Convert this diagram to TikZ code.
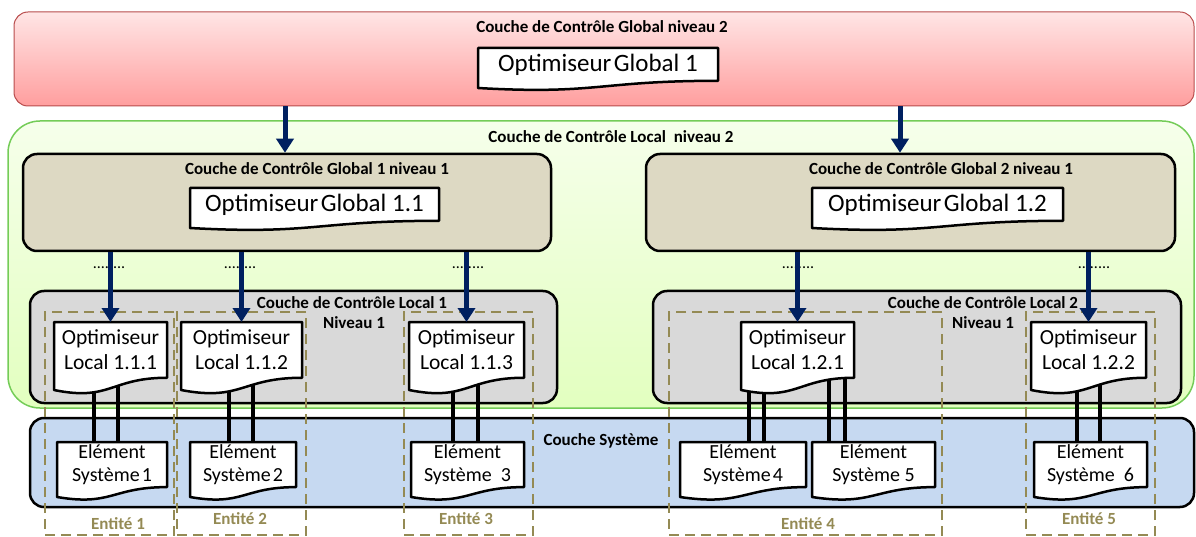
\documentclass[tikz,border=0pt]{standalone}
\usepackage{fontspec}
\setmainfont{Carlito}
\usepackage{tikz}
\usetikzlibrary{arrows.meta}
\pgfdeclarelayer{back}
\pgfdeclarelayer{links}
\pgfsetlayers{back,links,main}
\definecolor{navy}{HTML}{002060}
\definecolor{olive}{HTML}{948A54}
\definecolor{tan}{HTML}{DDD9C3}
\definecolor{lgray}{HTML}{D9D9D9}
\definecolor{lblue}{HTML}{C6D9F1}

% document shape: flat top, wavy bottom
% #1 name, #2 centre, #3 width, #4 height, #5 font, #6 text
\newcommand{\docbox}[6]{%
  \draw[docline] (#2) ++(-#3/2,#4/2) -- ++(#3,0) -- ++(0,-0.82*#4)
    .. controls +(-0.5*#3,0) and +(0.5*#3,-0.17*#4) .. ++(-#3,-0.18*#4) -- cycle;
  \node[doctext,font=#5,minimum width=#3pt,minimum height=0.82*#4pt,anchor=north]
    (#1) at ([yshift=#4pt/2]#2) {#6};}

\begin{document}
\begin{tikzpicture}[x=1pt,y=1pt,
		layer/.style={rounded corners=14pt,line width=2.5pt,draw=black,inner sep=0pt},
		title/.style={font=\fontsize{17}{19}\selectfont\bfseries},
		docline/.style={fill=white,draw=black,line width=2.5pt,line join=round},
		doctext/.style={align=center,inner sep=0pt,draw=none},
		entity/.style={draw=olive,line width=2.5pt,dash pattern=on 10pt off 6pt,inner sep=0pt},
		entlabel/.style={text=olive,font=\fontsize{17}{19}\selectfont\bfseries},
		arr/.style={navy,line width=5pt,-{Triangle[width=17pt,length=14pt]}},
		link/.style={black,line width=3.5pt},
		dots/.style={font=\fontsize{16}{16}\selectfont}]
		\useasboundingbox (0,0) rectangle (1196,536);
		
		% layers
		\begin{pgfonlayer}{back}
			\node[rounded corners=14pt,draw=red!60!black!70,line width=1pt,top color=red!10,bottom color=red!38,
			minimum width=1180pt,minimum height=94pt] (cg2) at (604,477) {};
			\node[rounded corners=32pt,draw=green!45!olive!80,line width=1.5pt,top color=green!45!yellow!8,bottom color=green!45!yellow!25,
			minimum width=1186pt,minimum height=287pt] (cl2) at (601,271.5) {};
			\node[layer,fill=tan,minimum width=528pt,minimum height=97pt] (cg11) at (287,333.5) {};
			\node[layer,fill=tan,minimum width=529pt,minimum height=97pt] (cg12) at (910.5,333.5) {};
			\node[layer,fill=lgray,minimum width=527pt,minimum height=112pt] (cl11) at (293.5,189) {};
			\node[layer,fill=lgray,minimum width=528pt,minimum height=112pt] (cl12) at (917,189) {};
			\node[layer,fill=lblue,minimum width=1164pt,minimum height=89pt] (cs) at (612,73.5) {};
		\end{pgfonlayer}
		
		% layer titles
		\node[title] (tcg2) at (602,509) {Couche de Contrôle Global niveau 2};
		\node[title] (tcl2) at (611,399) {Couche de Contrôle Local~~niveau 2};
		\node[title] (tcg11) at (317,367) {Couche de Contrôle Global 1 niveau 1};
		\node[title] (tcg12) at (941,367) {Couche de Contrôle Global 2 niveau 1};
		\node[title] (tcl11) at (352,233) {Couche de Contrôle Local 1};
		\node[title] (ncl11) at (354,213) {Niveau 1};
		\node[title] (tcl12) at (983,233) {Couche de Contrôle Local 2};
		\node[title] (ncl12) at (983,213) {Niveau 1};
		\node[title] (tcs) at (601,95) {Couche Système};
		
		% optimisers
		\docbox{og1}{598,468}{240}{40}{\fontsize{25}{28}\selectfont}{Optimiseur\hspace{0.1em}Global 1}
		\docbox{og11}{314.5,328}{249}{40}{\fontsize{25}{28}\selectfont}{Optimiseur\hspace{0.1em}Global 1.1}
		\docbox{og12}{937.5,328}{251}{40}{\fontsize{25}{28}\selectfont}{Optimiseur\hspace{0.1em}Global 1.2}
		\docbox{ol111}{110.5,180}{113}{68}{\fontsize{21.5}{25}\selectfont}{Optimiseur\\Local 1.1.1}
		\docbox{ol112}{241.5,180}{121}{68}{\fontsize{21.5}{25}\selectfont}{Optimiseur\\Local 1.1.2}
		\docbox{ol113}{466.5,180}{115}{68}{\fontsize{21.5}{25}\selectfont}{Optimiseur\\Local 1.1.3}
		\docbox{ol121}{797.5,180}{113}{68}{\fontsize{21.5}{25}\selectfont}{Optimiseur\\Local 1.2.1}
		\docbox{ol122}{1088.5,180}{115}{68}{\fontsize{21.5}{25}\selectfont}{Optimiseur\\Local 1.2.2}
		
		% system elements
		\docbox{es1}{112,66.5}{110}{55}{\fontsize{20}{22.5}\selectfont}{Elément\\Système\hspace{0.1em}1}
		\docbox{es2}{243,66.5}{106}{55}{\fontsize{20}{22.5}\selectfont}{Elément\\Système\hspace{0.1em}2}
		\docbox{es3}{467.5,66.5}{113}{55}{\fontsize{20}{22.5}\selectfont}{Elément\\Système~~3}
		\docbox{es4}{743,66.5}{126}{55}{\fontsize{20}{22.5}\selectfont}{Elément\\Système\hspace{0.1em}4}
		\docbox{es5}{873.5,66.5}{123}{55}{\fontsize{20}{22.5}\selectfont}{Elément\\Système 5}
		\docbox{es6}{1090.5,66.5}{113}{55}{\fontsize{20}{22.5}\selectfont}{Elément\\Système~~6}
		
		% double links optimiser -> element
		\begin{pgfonlayer}{links}
			\foreach \o/\e/\dx in {ol111/es1/-16.5,ol111/es1/7.5,ol112/es2/-12.5,ol112/es2/11.5,
				ol113/es3/-13.5,ol113/es3/11.5,ol121/es4/-48.5,ol121/es4/-33.5,
				ol121/es5/31.5,ol121/es5/47.5,ol122/es6/-11.5,ol122/es6/11.5}
			\draw[link] ([xshift=\dx pt]\o.center) -- ([xshift=\dx pt]\o.center |- \e.north);
		\end{pgfonlayer}
		
		% entities
		\node[entity,minimum width=129pt,minimum height=223pt] (e1) at (109.5,112.5) {};
		\node[entity,minimum width=129pt,minimum height=223pt] (e2) at (241.5,112.5) {};
		\node[entity,minimum width=129pt,minimum height=223pt] (e3) at (468.5,112.5) {};
		\node[entity,minimum width=273pt,minimum height=223pt] (e4) at (805.5,112.5) {};
		\node[entity,minimum width=129pt,minimum height=223pt] (e5) at (1090.5,112.5) {};
		\node[entlabel] (le1) at (118,12) {Entité 1};
		\node[entlabel] (le2) at (240,17) {Entité 2};
		\node[entlabel] (le3) at (466,17) {Entité 3};
		\node[entlabel] (le4) at (808,12) {Entité 4};
		\node[entlabel] (le5) at (1089,17) {Entité 5};
		
		% dots
		\foreach \x [count=\i] in {109,240,468,798,1094}
		\node[dots] (dots\i) at (\x,268) {........};
		
		% arrows
		\draw[arr] (cg2.south -| 285,0) -- (cg11.north -| 285,0);
		\draw[arr] (cg2.south -| 900,0) -- (cg12.north -| 900,0);
		\foreach \o/\g in {ol111/cg11,ol112/cg11,ol113/cg11,ol121/cg12,ol122/cg12}
		\draw[arr] (\g.south -| \o.north) -- (\o.north);
	\end{tikzpicture}
\end{document}
